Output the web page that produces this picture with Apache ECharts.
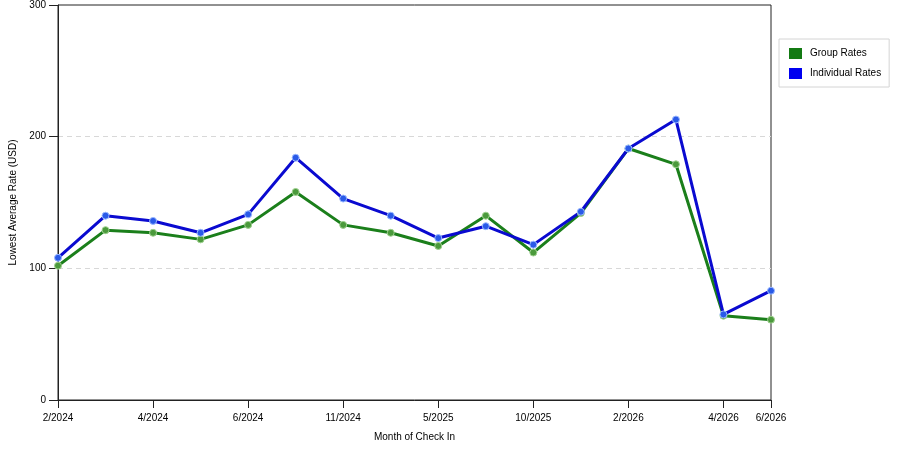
<!DOCTYPE html>
<html>
<head>
<meta charset="utf-8">
<script src="https://cdn.jsdelivr.net/npm/echarts@6/dist/echarts.min.js"></script>
<style>
  html, body { margin: 0; padding: 0; background: #fff; }
  #main { width: 900px; height: 450px; }
</style>
</head>
<body>
<div id="main"></div>
<script>
// months of check in (only some are labelled on the axis)
var months = ['2/2024', '3/2024', '4/2024', '5/2024', '6/2024', '8/2024', '11/2024', '2/2025',
              '5/2025', '7/2025', '10/2025', '12/2025', '2/2026', '3/2026', '4/2026', '6/2026'];
var shownLabels = ['2/2024', '4/2024', '6/2024', '11/2024', '5/2025', '10/2025', '2/2026', '4/2026', '6/2026'];

// lowest average rate, USD
var groupRates      = [102, 129, 127, 122, 133, 158, 133, 127, 117, 140, 112, 142, 191, 179, 64, 61];
var individualRates = [108, 140, 136, 127, 141, 184, 153, 140, 123, 132, 118, 143, 191, 213, 65, 83];

var yTicks = { min: 0, max: 300, step: 100 };

var font = 'Liberation Sans, Arial, sans-serif';

function isShown(idx, value) {
    return shownLabels.indexOf(value) != -1 || shownLabels.indexOf(months[idx]) != -1;
}

var myChart = echarts.init(document.getElementById('main'));

var option = {
    animation: false,
    textStyle: { fontFamily: font },
    grid: {
        left: 58,
        right: 129,
        top: 5,
        bottom: 50,
        show: true,
        borderColor: '#222',
        borderWidth: 1
    },
    legend: {
        orient: 'vertical',
        left: 779,
        top: 39,
        padding: [9, 8, 8, 10],
        itemGap: 9,
        itemWidth: 13,
        itemHeight: 11,
        icon: 'rect',
        borderColor: '#d4d4d4',
        borderWidth: 1,
        itemStyle: { borderWidth: 0 },
        textStyle: { fontSize: 10, color: '#000', fontFamily: font, padding: [0, 0, 0, 3] },
        data: [
            { name: 'Group Rates', itemStyle: { color: '#137a13', borderWidth: 0 } },
            { name: 'Individual Rates', itemStyle: { color: '#0000f0', borderWidth: 0 } }
        ]
    },
    xAxis: {
        type: 'category',
        boundaryGap: false,
        data: months,
        name: 'Month of Check In',
        nameLocation: 'middle',
        nameGap: 32,
        nameTextStyle: { fontSize: 10, color: '#000' },
        axisLine: { lineStyle: { color: '#222', width: 1 } },
        axisTick: { length: 8, interval: isShown, lineStyle: { color: '#222' } },
        axisLabel: { interval: isShown, fontSize: 10, color: '#000', margin: 13 },
        splitLine: { show: false }
    },
    yAxis: {
        type: 'value',
        min: yTicks.min,
        max: yTicks.max,
        interval: yTicks.step,
        name: 'Lowest Average Rate (USD)',
        nameLocation: 'middle',
        nameGap: 30,
        nameTextStyle: { fontSize: 10, color: '#000' },
        axisLine: { show: true, lineStyle: { color: '#222', width: 1 } },
        axisTick: { show: true, inside: false, length: 9, lineStyle: { color: '#222' } },
        axisLabel: { fontSize: 10, color: '#000', margin: 12 },
        splitLine: { showMinLine: false, showMaxLine: false, lineStyle: { color: '#d8d8d8', type: [5, 4] } }
    },
    series: [
        {
            name: 'Group Rates',
            type: 'line',
            data: groupRates,
            symbol: 'circle',
            symbolSize: 7,
            color: '#137a13',
            lineStyle: { color: '#1b7f1b', width: 3 },
            itemStyle: { color: '#4b9a3c', borderColor: '#9fd08f', borderWidth: 1 }
        },
        {
            name: 'Individual Rates',
            type: 'line',
            data: individualRates,
            symbol: 'circle',
            symbolSize: 7,
            color: '#0000f0',
            lineStyle: { color: '#0a0ad0', width: 3 },
            itemStyle: { color: '#2a5ae8', borderColor: '#9ab8ff', borderWidth: 1 }
        }
    ]
};

myChart.setOption(option);
</script>
</body>
</html>
